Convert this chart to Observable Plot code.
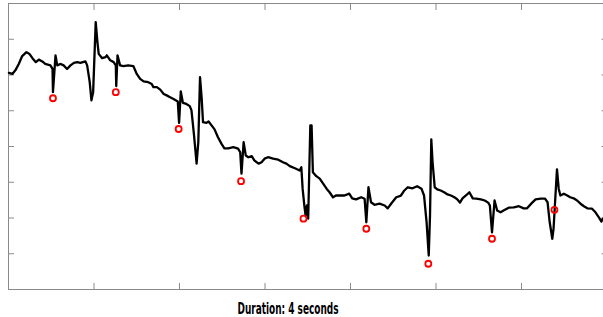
<!DOCTYPE html>
<html>
<head>
<meta charset="utf-8">
<script src="https://cdn.jsdelivr.net/npm/d3@7"></script>
<script src="https://cdn.jsdelivr.net/npm/@observablehq/plot@0.6"></script>
<style>
  html, body { margin: 0; padding: 0; background: #fff; }
  #chart { width: 603px; height: 317px; overflow: hidden; }
  #chart svg { display: block; }
</style>
</head>
<body>
<div id="chart"></div>
<script>
// Signal trace: sample index (350 Hz, 4 s window) and amplitude
const sampleIdx = [
  1, 9, 16, 24, 32, 42, 49, 56, 64, 71, 79, 86, 98, 103, 104, 110, 114, 121, 129, 137,
  145, 153, 161, 168, 180, 184, 190, 194, 198, 204, 208, 211, 219, 227, 230, 238, 246, 251, 252, 255,
  261, 269, 280, 292, 300, 308, 316, 327, 335, 339, 347, 355, 363, 370, 378, 386, 396, 399, 403, 408,
  416, 424, 428, 434, 440, 444, 448, 452, 455, 463, 468, 475, 482, 490, 498, 505, 514, 526, 537, 542,
  545, 550, 555, 561, 569, 575, 585, 592, 599, 607, 619, 631, 642, 650, 658, 670, 681, 685, 688, 692,
  695, 698, 701, 706, 709, 712, 720, 728, 736, 744, 751, 759, 766, 774, 786, 797, 804, 813, 825, 833,
  837, 842, 848, 856, 868, 880, 887, 895, 907, 915, 918, 926, 934, 945, 956, 966, 972, 978, 983, 986,
  989, 992, 997, 1003, 1011, 1019, 1027, 1035, 1043, 1050, 1056, 1062, 1070, 1078, 1086, 1094, 1105, 1114, 1122, 1126,
  1131, 1137, 1143, 1151, 1158, 1170, 1182, 1194, 1205, 1213, 1225, 1233, 1245, 1255, 1261, 1266, 1272, 1275, 1279, 1283,
  1287, 1291, 1299, 1307, 1314, 1322, 1330, 1338, 1346, 1354, 1365, 1373, 1381, 1387, 1390
];
const amplitude = [
  2.06, 2.03, 2.13, 2.31, 2.53, 2.64, 2.59, 2.47, 2.36, 2.43, 2.38, 2.31, 2.27, 2.17, 1.52, 2.55, 2.27, 2.31, 2.27, 2.17,
  2.27, 2.34, 2.36, 2.34, 2.38, 2.27, 1.80, 1.29, 1.52, 3.48, 2.92, 2.59, 2.47, 2.50, 2.55, 2.41, 2.36, 2.27, 1.69, 2.55,
  2.27, 2.25, 2.27, 2.25, 2.03, 1.89, 1.82, 1.80, 1.75, 1.66, 1.66, 1.59, 1.47, 1.43, 1.38, 1.33, 1.26, 0.66, 1.54, 1.22,
  1.19, 1.13, 1.01, 0.31, -0.48, 0.12, 1.94, 1.33, 0.68, 0.66, 0.70, 0.59, 0.48, 0.26, 0.08, -0.05, -0.05, -0.02, -0.06, -0.16,
  -0.76, 0.12, -0.25, -0.30, -0.27, -0.39, -0.48, -0.44, -0.34, -0.30, -0.34, -0.37, -0.44, -0.48, -0.55, -0.61, -0.67, -0.58, -1.18, -1.65,
  -1.93, -1.65, -2.02, 0.59, 0.59, -0.72, -0.83, -0.90, -1.04, -1.18, -1.28, -1.42, -1.37, -1.37, -1.37, -1.32, -1.45, -1.48, -1.42, -1.46,
  -2.12, -1.14, -1.56, -1.63, -1.60, -1.65, -1.73, -1.60, -1.42, -1.39, -1.37, -1.23, -1.14, -1.17, -1.11, -1.18, -1.37, -2.12, -3.05, -1.93,
  0.20, -0.44, -1.14, -1.20, -1.23, -1.28, -1.34, -1.37, -1.42, -1.48, -1.57, -1.45, -1.37, -1.28, -1.45, -1.46, -1.48, -1.51, -1.57, -1.65,
  -2.40, -1.51, -1.79, -1.84, -1.79, -1.71, -1.70, -1.67, -1.73, -1.73, -1.57, -1.48, -1.46, -1.46, -1.56, -2.12, -2.58, -2.30, -1.46, -0.64,
  -1.18, -1.37, -1.32, -1.37, -1.42, -1.45, -1.51, -1.60, -1.67, -1.73, -1.74, -1.84, -1.98, -2.10, -2.02
];
// Detected events (red circles)
const markIdx = [104, 251, 398, 544, 690, 837, 982, 1131, 1277];
const markAmp = [1.35, 1.52, 0.49, -0.97, -2.02, -2.30, -3.28, -2.58, -1.77];
// Axis ticks
const xTicks = [200, 400, 600, 800, 1000, 1200];
const yTicks = [-3, -2, -1, 0, 1, 2, 3];
const caption = "Duration: 4 seconds";

const signal = sampleIdx.map((s, i) => ({s, v: amplitude[i]}));
const marks = markIdx.map((s, i) => ({s, v: markAmp[i]}));

const axisStyle = {stroke: "#8a8a8a", fill: "none", label: null, tickSize: -6};

const plot = Plot.plot({
  width: 603,
  height: 292,
  marginTop: 3,
  marginBottom: 3,
  marginLeft: 8,
  marginRight: -3.5,
  x: {domain: [0, 1400]},
  y: {domain: [-4, 4]},
  marks: [
    Plot.frame({stroke: "#8a8a8a"}),
    Plot.axisX(xTicks, {anchor: "bottom", ...axisStyle}),
    Plot.axisX(xTicks, {anchor: "top", ...axisStyle}),
    Plot.axisY(yTicks, {anchor: "left", ...axisStyle}),
    Plot.axisY(yTicks, {anchor: "right", ...axisStyle}),
    Plot.line(signal, {x: "s", y: "v", stroke: "black", strokeWidth: 2.3, strokeLinejoin: "round"}),
    Plot.dot(marks, {x: "s", y: "v", r: 3, stroke: "#ff0000", strokeWidth: 1.8, fill: "none"})
  ]
});
const chart = document.getElementById("chart");
chart.appendChild(plot);

const ns = "http://www.w3.org/2000/svg";
const capSvg = document.createElementNS(ns, "svg");
capSvg.setAttribute("width", 603);
capSvg.setAttribute("height", 25);
const t = document.createElementNS(ns, "text");
t.setAttribute("x", 288);
t.setAttribute("y", 22);
t.setAttribute("text-anchor", "middle");
t.setAttribute("textLength", 101);
t.setAttribute("lengthAdjust", "spacingAndGlyphs");
t.setAttribute("font-family", "'Liberation Sans Narrow', 'DejaVu Sans Condensed', sans-serif");
t.setAttribute("font-weight", "bold");
t.setAttribute("font-size", 16.5);
t.setAttribute("fill", "#000");
t.textContent = caption;
capSvg.appendChild(t);
chart.appendChild(capSvg);
</script>
</body>
</html>
